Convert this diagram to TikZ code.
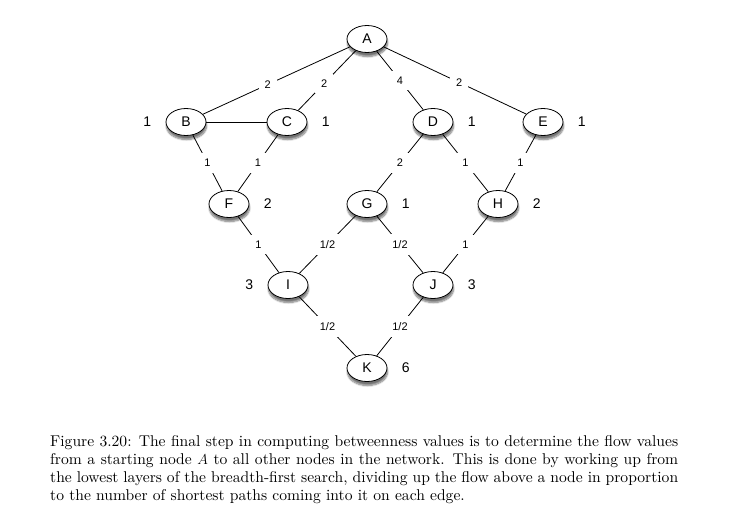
\documentclass[tikz,border=0pt]{standalone}
\usepackage{fontspec}
\setmainfont{lmroman10-regular.otf}[ItalicFont=lmroman10-italic.otf, BoldFont=lmroman10-bold.otf]
\setsansfont{Liberation Sans}
\usepackage{tikz}
\usetikzlibrary{shapes, shadows, shadows.blur, positioning}

\tikzset{
  vertex/.style={ellipse, draw, line width=0.8pt, fill=white,
    minimum width=40pt, minimum height=27pt, inner sep=0pt,
    font=\sffamily\fontsize{14}{14}\selectfont,
    blur shadow={shadow xshift=0.5pt, shadow yshift=-4pt, shadow blur steps=8, shadow opacity=55}},
  count/.style={font=\sffamily\fontsize{14}{14}\selectfont},
  flow/.style={fill=white, inner sep=6pt, font=\sffamily\fontsize{11}{11}\selectfont},
  link/.style={line width=0.8pt}
}

\begin{document}
\begin{tikzpicture}[x=1pt, y=-1pt]
    \useasboundingbox (0,0) rectangle (752,530);

    % Layers of the breadth-first search
    \node[vertex] (A) at (367,39) {A};
    \node[vertex] (B) at (186,122) {B};
    \node[vertex] (C) at (287,122) {C};
    \node[vertex] (D) at (433,122) {D};
    \node[vertex] (E) at (543,122) {E};
    \node[vertex] (F) at (229,204) {F};
    \node[vertex] (G) at (367,204) {G};
    \node[vertex] (H) at (498,204) {H};
    \node[vertex] (I) at (288,285) {I};
    \node[vertex] (J) at (433,285) {J};
    \node[vertex] (K) at (367,368) {K};

    % Number of shortest paths
    \node[count, left=11pt of B] (nB) {1};
    \node[count, right=11pt of C] (nC) {1};
    \node[count, right=11pt of D] (nD) {1};
    \node[count, right=11pt of E] (nE) {1};
    \node[count, right=11pt of F] (nF) {2};
    \node[count, right=11pt of G] (nG) {1};
    \node[count, right=11pt of H] (nH) {2};
    \node[count, left=11pt of I] (nI) {3};
    \node[count, right=11pt of J] (nJ) {3};
    \node[count, right=11pt of K] (nK) {6};

    % Flow on the edges
    \draw[link] (A) -- node[flow, pos=0.56] {2} (B);
    \draw[link] (A) -- node[flow, pos=0.55] {2} (C);
    \draw[link] (A) -- node[flow] {4} (D);
    \draw[link] (A) -- node[flow, pos=0.53] {2} (E);
    \draw[link] (B) -- (C);
    \draw[link] (B) -- node[flow] {1} (F);
    \draw[link] (C) -- node[flow] {1} (F);
    \draw[link] (D) -- node[flow] {2} (G);
    \draw[link] (D) -- node[flow] {1} (H);
    \draw[link] (E) -- node[flow] {1} (H);
    \draw[link] (F) -- node[flow] {1} (I);
    \draw[link] (G) -- node[flow] {1/2} (I);
    \draw[link] (G) -- node[flow] {1/2} (J);
    \draw[link] (H) -- node[flow] {1} (J);
    \draw[link] (I) -- node[flow] {1/2} (K);
    \draw[link] (J) -- node[flow] {1/2} (K);

    % Caption
    \node[anchor=north west, inner sep=0pt, text width=628pt, align=justify,
      font=\fontsize{15.6}{18}\selectfont] (caption) at (50,435)
      {\hyphenpenalty=10000\relax
       Figure 3.20: The final step in computing betweenness values is to determine the flow values\linebreak
       from a starting node $A$ to all other nodes in the network. This is done by working up from\linebreak
       the lowest layers of the breadth-first search, dividing up the flow above a node in proportion\linebreak
       to the number of shortest paths coming into it on each edge.};
  \end{tikzpicture}
\end{document}
